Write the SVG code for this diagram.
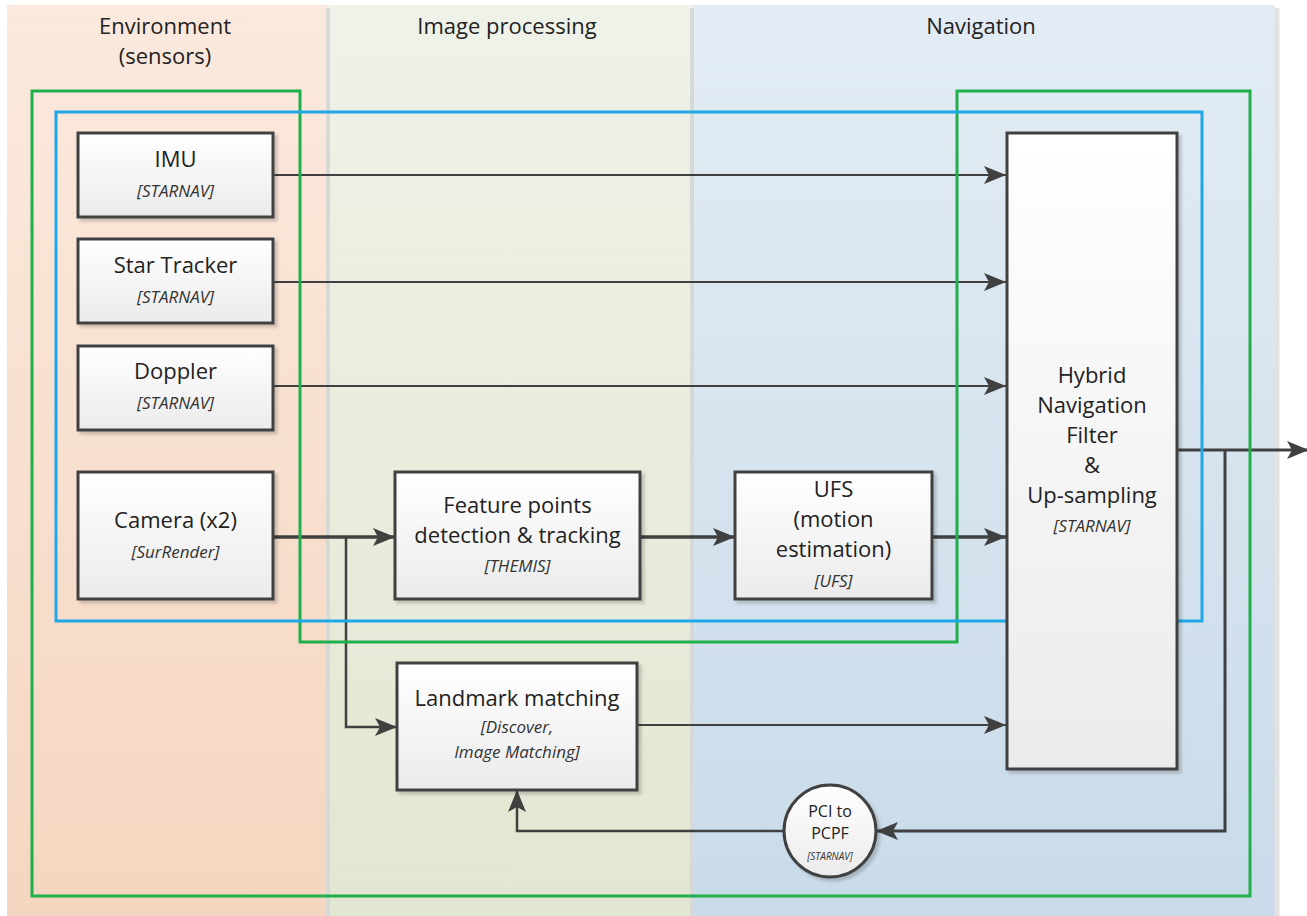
<svg xmlns="http://www.w3.org/2000/svg" width="1307" height="916" viewBox="0 0 1307 916">
<defs>
<linearGradient id="gEnv" x1="0" y1="0" x2="0" y2="1"><stop offset="0" stop-color="#fbe9de"/><stop offset="1" stop-color="#f5d6c0"/></linearGradient>
<linearGradient id="gImg" x1="0" y1="0" x2="0" y2="1"><stop offset="0" stop-color="#eff2e8"/><stop offset="1" stop-color="#e2e7d1"/></linearGradient>
<linearGradient id="gNav" x1="0" y1="0" x2="0" y2="1"><stop offset="0" stop-color="#e3ecf4"/><stop offset="1" stop-color="#c9dbe9"/></linearGradient>
<linearGradient id="gNode" x1="0" y1="0" x2="0" y2="1"><stop offset="0" stop-color="#ffffff"/><stop offset="1" stop-color="#ebebeb"/></linearGradient>
<filter id="sh" x="-10%" y="-10%" width="130%" height="130%"><feDropShadow dx="3" dy="3" stdDeviation="1.5" flood-color="#000" flood-opacity="0.18"/></filter>
<marker id="arr" viewBox="0 0 22 18" refX="22" refY="9" markerWidth="22" markerHeight="18" markerUnits="userSpaceOnUse" orient="auto"><path d="M0,0 L22,9 L0,18 L5,9 Z" fill="#404040"/></marker>
<style>
.t{font-family:"Open Sans","Liberation Sans",sans-serif;font-size:22px;fill:#222;text-anchor:middle}
.s{font-family:"Open Sans","Liberation Sans",sans-serif;font-size:17px;font-style:italic;fill:#333;text-anchor:middle}
.box{fill:url(#gNode);stroke:#404040;stroke-width:3;filter:url(#sh)}
.c{fill:none;stroke:#404040;stroke-linejoin:miter}
.thin{stroke-width:2}
.thick{stroke-width:3.5}
.sep{stroke:#d6d9d6;stroke-width:4}
</style>
</defs>
<g id="lanes">
<rect x="7" y="5" width="320" height="911" fill="url(#gEnv)"/>
<rect x="327" y="5" width="366" height="911" fill="url(#gImg)"/>
<rect x="693" y="5" width="582" height="911" fill="url(#gNav)"/>
<line class="sep" x1="328" y1="8" x2="328" y2="916"/>
<line class="sep" x1="692" y1="8" x2="692" y2="916"/>
<line x1="1277" y1="8" x2="1277" y2="916" stroke="#e2e2e2" stroke-width="5"/>
<text class="t" x="165" y="34">Environment</text>
<text class="t" x="165" y="64">(sensors)</text>
<text class="t" x="507" y="34">Image processing</text>
<text class="t" x="981" y="34">Navigation</text>
</g>
<g id="connectors">
<line class="c thin" x1="273" y1="175" x2="1006" y2="175" marker-end="url(#arr)"/>
<line class="c thin" x1="273" y1="282" x2="1006" y2="282" marker-end="url(#arr)"/>
<line class="c thin" x1="273" y1="386" x2="1006" y2="386" marker-end="url(#arr)"/>
<line class="c thick" x1="273" y1="537" x2="395" y2="537" marker-end="url(#arr)"/>
<polyline class="c" stroke-width="2.5" points="346,537 346,727 397,727" marker-end="url(#arr)"/>
<line class="c thick" x1="640" y1="537" x2="735" y2="537" marker-end="url(#arr)"/>
<line class="c thick" x1="932" y1="537" x2="1006" y2="537" marker-end="url(#arr)"/>
<line class="c thin" x1="637" y1="725" x2="1006" y2="725" marker-end="url(#arr)"/>
<line class="c" stroke-width="3" x1="1177" y1="450" x2="1309" y2="450" marker-end="url(#arr)"/>
<polyline class="c" stroke-width="3" points="1225,450 1225,831 876,831" marker-end="url(#arr)"/>
<polyline class="c" stroke-width="2.5" points="784,831 517,831 517,790" marker-end="url(#arr)"/>
</g>
<g id="groups">
<polygon points="32,91 300,91 300,642 957,642 957,91 1250,91 1250,896 32,896" fill="none" stroke="#1fb04c" stroke-width="3"/>
<rect x="56" y="112" width="1146" height="509" fill="none" stroke="#1ea8e8" stroke-width="3"/>
</g>
<g id="imu"><rect class="box" x="78" y="133" width="195" height="84"/><text class="t" x="175.5" y="167">IMU</text><text class="s" x="175.5" y="197">[STARNAV]</text></g>
<g id="startracker"><rect class="box" x="78" y="239" width="195" height="84"/><text class="t" x="175.5" y="273">Star Tracker</text><text class="s" x="175.5" y="303">[STARNAV]</text></g>
<g id="doppler"><rect class="box" x="78" y="346" width="195" height="84"/><text class="t" x="175.5" y="379">Doppler</text><text class="s" x="175.5" y="409">[STARNAV]</text></g>
<g id="camera"><rect class="box" x="78" y="472" width="195" height="127"/><text class="t" x="175.5" y="528">Camera (x2)</text><text class="s" x="175.5" y="558">[SurRender]</text></g>
<g id="feature"><rect class="box" x="395" y="472" width="245" height="127"/><text class="t" x="517.5" y="513">Feature points</text><text class="t" x="517.5" y="543">detection &amp; tracking</text><text class="s" x="517.5" y="572">[THEMIS]</text></g>
<g id="ufs"><rect class="box" x="735" y="472" width="197" height="127"/><text class="t" x="833.5" y="497">UFS</text><text class="t" x="833.5" y="527">(motion</text><text class="t" x="833.5" y="557">estimation)</text><text class="s" x="833.5" y="587">[UFS]</text></g>
<g id="hybrid"><rect class="box" x="1007" y="133" width="170" height="636"/><text class="t" x="1092" y="383">Hybrid</text><text class="t" x="1092" y="413">Navigation</text><text class="t" x="1092" y="443">Filter</text><text class="t" x="1092" y="473">&amp;</text><text class="t" x="1092" y="503">Up-sampling</text><text class="s" x="1092" y="532">[STARNAV]</text></g>
<g id="landmark"><rect class="box" x="397" y="663" width="240" height="127"/><text class="t" x="517" y="706">Landmark matching</text><text class="s" x="517" y="733">[Discover,</text><text class="s" x="517" y="758">Image Matching]</text></g>
<g id="pci"><circle class="box" cx="830" cy="831" r="46"/><text class="t" x="830" y="817" style="font-size:16px">PCI to</text><text class="t" x="830" y="839" style="font-size:16px">PCPF</text><text class="s" x="830" y="860" style="font-size:10px">[STARNAV]</text></g>
</svg>
